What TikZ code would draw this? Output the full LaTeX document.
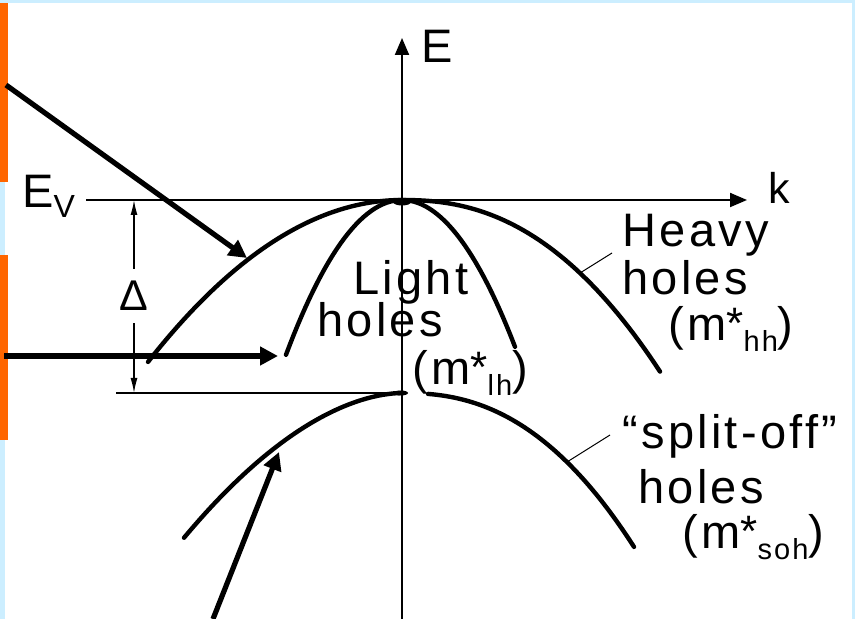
\documentclass[tikz,border=0pt]{standalone}
\usepackage{fontspec}
\setmainfont{Liberation Sans}[LetterSpace=7]
\usetikzlibrary{arrows.meta,positioning}
\definecolor{bgcyan}{RGB}{204,238,255}
\definecolor{barorange}{RGB}{255,102,0}
\newcommand{\effmass}[1]{(m\raisebox{1pt}{\fontsize{22}{22}\selectfont *}\raisebox{-5.5pt}{\fontsize{14.5}{14.5}\selectfont #1})}

\begin{document}
\begin{tikzpicture}[
    x=0.5pt, y=-0.5pt,
    lbl/.style={inner sep=0pt, anchor=base west, font=\fontsize{23.5}{26}\selectfont},
    band/.style={line width=2.2pt, line cap=round},
    axis/.style={line width=1pt, -{Triangle[length=8.5pt,width=7pt]}},
    pointer/.style={line width=2.6pt, -{Triangle[length=9pt,width=9pt]}},
    leader/.style={line width=0.5pt},
    dim/.style={line width=0.7pt, {Latex[length=7.5pt,width=3.5pt]}-{Latex[length=7.5pt,width=3.5pt]}}
]
    \useasboundingbox (0,0) rectangle (855,619);
    \fill[bgcyan] (0,0) rectangle (855,619);
    \fill[white] (5,3) rectangle (852,619);
    \fill[barorange] (0,3) rectangle (8,182);
    \fill[barorange] (0,255) rectangle (8,440);

    % axes
    \coordinate (Ebot) at (402,619);
    \coordinate (Etop) at (402,38);
    \coordinate (kleft) at (86,200);
    \coordinate (kright) at (747,200);
    \coordinate (sotop) at (116,393);
    \coordinate (sovertex) at (402,393);
    \draw[axis] (Ebot) -- (Etop);
    \draw[axis] (kleft) -- (kright);
    \draw[line width=0.7pt] (sotop) -- (sovertex);

    % splitting
    \coordinate (dimtop) at (134,200);
    \coordinate (dimbot) at (134,393);
    \draw[dim] (dimtop) -- (dimbot);
    \node (delta) [fill=white, inner xsep=2pt, inner ysep=6pt, font=\fontsize{21.5}{24}\selectfont] at (134,296) {Δ};

    % bands
    \draw[band] plot[domain=148:402, samples=50] (\x, {200+25.1*((\x-402)/100)*((\x-402)/100)});
    \draw[band] plot[domain=402.5:660, samples=50] (\x, {200+19.4*((\x-402)/100)^2.3});
    \draw[band] plot[domain=286:515, samples=60] (\x, {200+115*((\x-402)/100)*((\x-402)/100)});
    \draw[band] plot[domain=184:401.5, samples=50] (\x, {393+35.6*((402-\x)/100)^1.8});
    \draw[band] plot[domain=428:634, samples=50] (\x, {393+21.3*((\x-402)/100)^2.35});
    \fill (402,202) ellipse [x radius=9, y radius=3.5];
    \fill (401,393) ellipse [x radius=7, y radius=2.5];

    % labels
    \node (Elabel) [lbl] at (421,63) {E};
    \node (klabel) [lbl, font=\fontsize{21.5}{24}\selectfont] at (768,204) {k};
    \node (Evlabel) [lbl] at (22,208) {E\raisebox{-5pt}{\fontsize{16}{16}\selectfont V}};
    \node (hhA) [lbl] at (622,247) {Heavy};
    \node (hhB) [lbl] at (622,295) {holes};
    \node (hhC) [lbl] at (668,341) {\effmass{hh}};
    \node (lhA) [lbl] at (353,295) {Light};
    \node (lhB) [lbl] at (317,337) {holes};
    \node (lhC) [lbl] at (412,385) {\effmass{lh}};
    \node (soA) [lbl] at (622,448) {“split-off”};
    \node (soB) [lbl] at (638,503) {holes};
    \node (soC) [lbl] at (682,548) {\effmass{soh}};

    % leaders
    \coordinate (hhcurve) at (580,273);
    \coordinate (hhend) at (612,253);
    \coordinate (socurve) at (567,462);
    \coordinate (soend) at (610,435);
    \draw[leader] (hhcurve) -- (hhend);
    \draw[leader] (socurve) -- (soend);

    % pointers
    \coordinate (pA) at (6,85);
    \coordinate (pAtip) at (247,258);
    \coordinate (pB) at (4,356);
    \coordinate (pBtip) at (278,356);
    \coordinate (pC) at (213,619);
    \coordinate (pCtip) at (279,452);
    \draw[pointer] (pA) -- (pAtip);
    \draw[pointer] (pB) -- (pBtip);
    \draw[pointer] (pC) -- (pCtip);
\end{tikzpicture}
\end{document}
